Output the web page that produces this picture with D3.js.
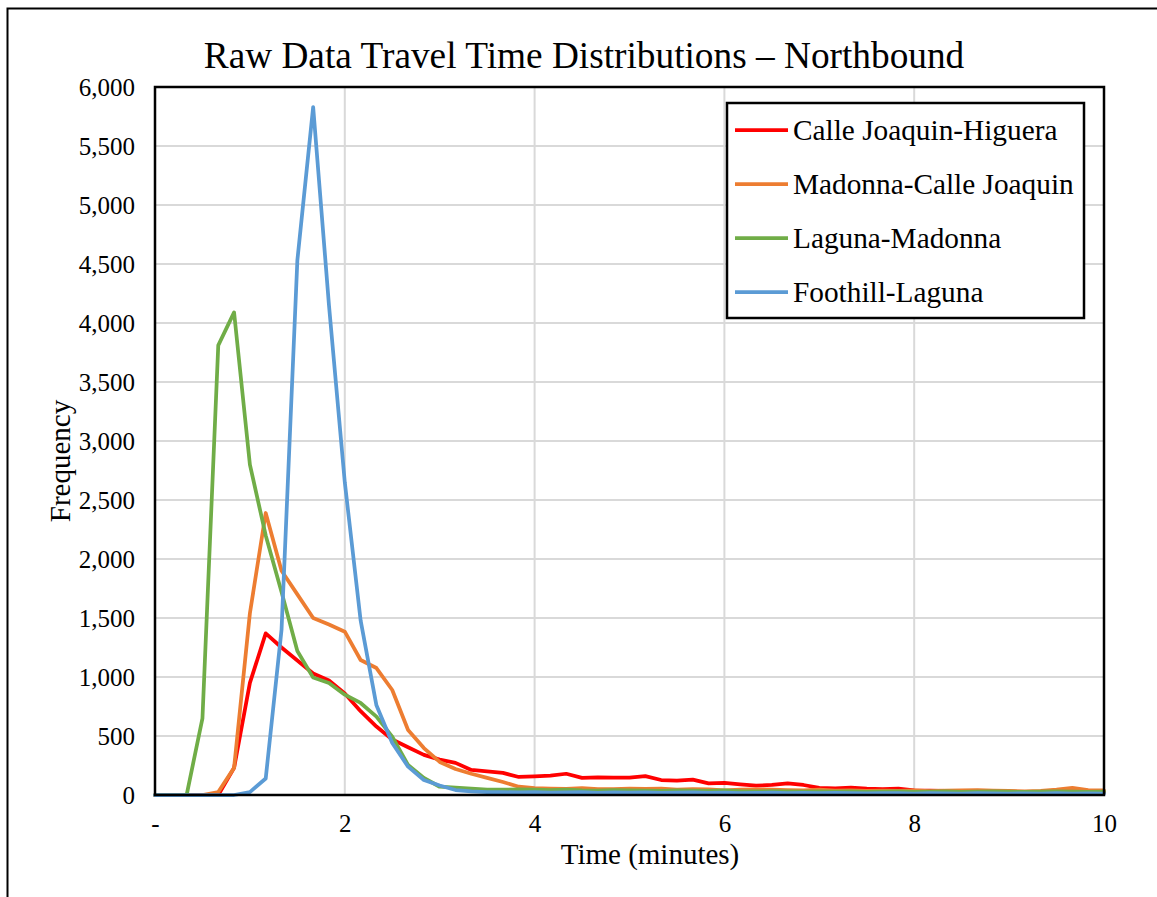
<!DOCTYPE html>
<html>
<head>
<meta charset="utf-8">
<script src="https://cdn.jsdelivr.net/npm/d3@7"></script>
<style>
  html, body { margin: 0; padding: 0; background: #fff; }
  svg { display: block; font-family: "Liberation Serif", "Times New Roman", serif; }
</style>
</head>
<body>
<svg id="chart" width="1157" height="897"></svg>
<script>
// Travel time bins, every 10 seconds from 0 to 10 minutes
const binCount = 61;
const times = d3.range(binCount).map(i => i / 6);

const seriesNames = [
  "Calle Joaquin-Higuera",
  "Madonna-Calle Joaquin",
  "Laguna-Madonna",
  "Foothill-Laguna"
];
const seriesColors = ["#FF0000", "#ED7D31", "#70AD47", "#5B9BD5"];

const calleJoaquinHiguera = [
  0, 0, 0, 0, 0, 230, 950, 1370, 1250, 1140,
  1030, 970, 860, 710, 580, 470, 405, 340, 300, 272,
  212, 200, 187, 153, 158, 165, 180, 145, 150, 148,
  148, 160, 127, 121, 130, 99, 102, 90, 80, 85,
  99, 85, 60, 57, 63, 55, 50, 55, 40, 38,
  35, 30, 32, 30, 28, 25, 25, 22, 20, 22, 20
];
const madonnaCalleJoaquin = [
  0, 0, 0, 0, 25, 230, 1540, 2390, 1900, 1700,
  1500, 1445, 1384, 1144, 1076, 890, 551, 398, 280, 220,
  180, 145, 110, 70, 58, 55, 52, 58, 50, 50,
  55, 52, 55, 45, 50, 48, 40, 45, 48, 45,
  42, 40, 45, 38, 40, 35, 38, 35, 40, 32,
  38, 40, 42, 38, 35, 30, 35, 45, 60, 42, 40
];
const lagunaMadonna = [
  0, 0, 0, 650, 3810, 4090, 2800, 2200, 1720, 1220,
  995, 949, 850, 780, 664, 494, 254, 144, 70, 62,
  55, 45, 45, 48, 45, 42, 45, 40, 38, 42,
  40, 38, 35, 40, 38, 35, 40, 32, 30, 32,
  30, 28, 30, 28, 30, 27, 28, 30, 26, 28,
  30, 27, 28, 30, 28, 26, 28, 30, 28, 27, 28
];
const foothillLaguna = [
  0, 0, 0, 0, 0, 0, 25, 140, 1400, 4530,
  5830, 4150, 2650, 1480, 760, 440, 240, 127, 80, 42,
  30, 25, 24, 22, 25, 20, 22, 24, 18, 22,
  20, 22, 18, 20, 22, 18, 20, 15, 18, 20,
  16, 18, 15, 18, 16, 14, 16, 15, 12, 15,
  14, 12, 15, 14, 12, 14, 12, 15, 12, 14, 12
];
const seriesValues = [calleJoaquinHiguera, madonnaCalleJoaquin, lagunaMadonna, foothillLaguna];

const xTicks = [0, 2, 4, 6, 8, 10];
const xTickLabels = ["-", "2", "4", "6", "8", "10"];
const yTicks = d3.range(0, 6001, 500);

const chartTitle = "Raw Data Travel Time Distributions \u2013 Northbound";
const xTitle = "Time (minutes)";
const yTitle = "Frequency";

const svg = d3.select("#chart");
const plot = { left: 155, top: 87, right: 1104, bottom: 795 };

const x = d3.scaleLinear().domain([0, 10]).range([plot.left, plot.right]);
const y = d3.scaleLinear().domain([0, 6000]).range([plot.bottom, plot.top]);

// outer chart frame
svg.append("rect")
  .attr("x", 7.5).attr("y", 8.5)
  .attr("width", 1170).attr("height", 900)
  .attr("fill", "#fff").attr("stroke", "#000").attr("stroke-width", 2);

// gridlines
svg.append("g").selectAll("line").data(yTicks.filter(v => v > 0 && v < 6000)).join("line")
  .attr("x1", plot.left).attr("x2", plot.right)
  .attr("y1", d => y(d)).attr("y2", d => y(d))
  .attr("stroke", "#D9D9D9").attr("stroke-width", 2);
svg.append("g").selectAll("line").data(xTicks.filter(v => v > 0 && v < 10)).join("line")
  .attr("y1", plot.top).attr("y2", plot.bottom)
  .attr("x1", d => x(d)).attr("x2", d => x(d))
  .attr("stroke", "#D9D9D9").attr("stroke-width", 2);

// axes (labels only; frame drawn separately)
const yAxis = d3.axisLeft(y).tickValues(yTicks).tickSize(0).tickPadding(20)
  .tickFormat(d => d === 0 ? "0" : d3.format(",")(d));
const yG = svg.append("g").attr("transform", `translate(${plot.left},0)`).call(yAxis);
yG.select(".domain").remove();
yG.selectAll("text").attr("font-family", "Liberation Serif, Times New Roman, serif")
  .attr("font-size", 25).attr("fill", "#000");

const xAxis = d3.axisBottom(x).tickValues(xTicks).tickSize(0).tickPadding(19)
  .tickFormat((d, i) => xTickLabels[i]);
const xG = svg.append("g").attr("transform", `translate(0,${plot.bottom})`).call(xAxis);
xG.select(".domain").remove();
xG.selectAll("text").attr("font-family", "Liberation Serif, Times New Roman, serif")
  .attr("font-size", 25).attr("fill", "#000");

// series lines
const line = d3.line().x((d, i) => x(times[i])).y(d => y(d));
svg.append("g").selectAll("path").data(seriesValues).join("path")
  .attr("d", d => line(d))
  .attr("fill", "none")
  .attr("stroke", (d, i) => seriesColors[i])
  .attr("stroke-width", 3.75)
  .attr("stroke-linejoin", "round")
  .attr("stroke-linecap", "round");

// plot frame
svg.append("rect")
  .attr("x", plot.left).attr("y", plot.top)
  .attr("width", plot.right - plot.left).attr("height", plot.bottom - plot.top)
  .attr("fill", "none").attr("stroke", "#000").attr("stroke-width", 2.5);

// titles
svg.append("text").attr("x", 584).attr("y", 68).attr("text-anchor", "middle")
  .attr("font-size", 37.3).text(chartTitle);
svg.append("text").attr("x", 650).attr("y", 864).attr("text-anchor", "middle")
  .attr("font-size", 29).text(xTitle);
svg.append("text").attr("transform", "translate(70,461) rotate(-90)").attr("text-anchor", "middle")
  .attr("font-size", 29).text(yTitle);

// legend
const legend = svg.append("g");
legend.append("rect").attr("x", 727).attr("y", 103).attr("width", 357).attr("height", 215)
  .attr("fill", "#fff").attr("stroke", "#000").attr("stroke-width", 2.5);
const rows = legend.selectAll("g.row").data(seriesNames).join("g")
  .attr("class", "row")
  .attr("transform", (d, i) => `translate(0,${130 + i * 54})`);
rows.append("line").attr("x1", 735).attr("x2", 788).attr("y1", 0).attr("y2", 0)
  .attr("stroke", (d, i) => seriesColors[i]).attr("stroke-width", 3.75);
rows.append("text").attr("x", 793).attr("y", 10).attr("font-size", 29.3).text(d => d);
</script>
</body>
</html>
